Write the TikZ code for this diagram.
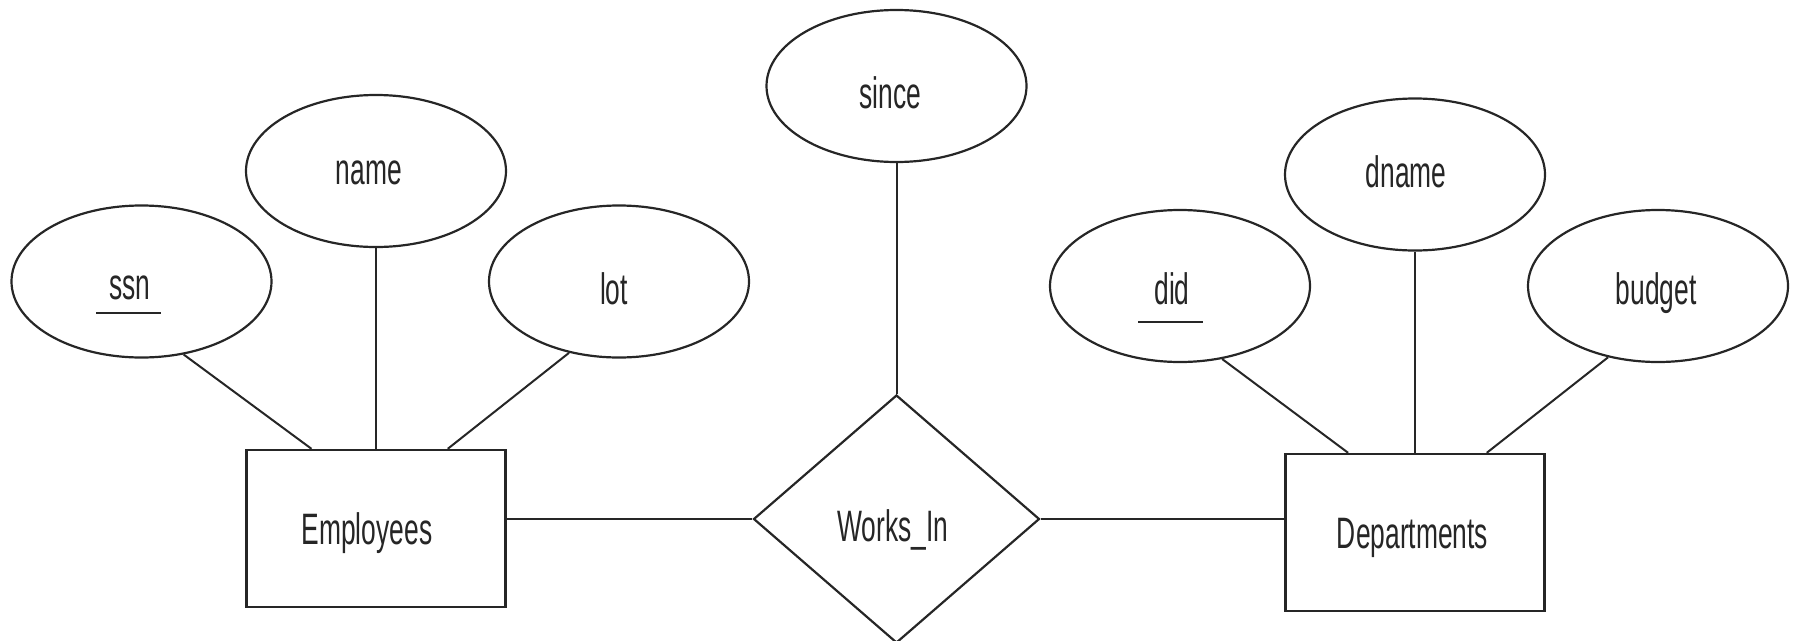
\documentclass[tikz,border=0pt]{standalone}
\usepackage{fontspec}
\newfontfamily\erfont[FakeStretch=0.6]{Liberation Sans}
\usetikzlibrary{shapes.geometric}
\definecolor{ink}{gray}{0.15}
\begin{document}
\begin{tikzpicture}[x=1pt,y=-1pt,
  attr/.style={ellipse,draw=ink,line width=2.2pt,minimum width=260pt,minimum height=152pt,inner sep=0pt},
  entity/.style={rectangle,draw=ink,line width=2.4pt,minimum width=259pt,minimum height=157pt,inner sep=0pt},
  rel/.style={diamond,draw=ink,line width=2.2pt,minimum width=286pt,minimum height=248pt,inner sep=0pt},
  txt/.style={anchor=base,inner sep=0pt,text=ink,font=\erfont\fontsize{44}{52}\selectfont},
  link/.style={draw=ink,line width=2pt},
  keyline/.style={draw=ink,line width=2.6pt}]
\useasboundingbox (0,0) rectangle (1794,640);

% attributes
\node[attr] (ssn)    at (141.5,281.5) {};
\node[attr] (name)   at (376,171)     {};
\node[attr] (lot)    at (619,281.5)   {};
\node[attr] (since)  at (896.5,86)    {};
\node[attr] (did)    at (1180,286)    {};
\node[attr] (dname)  at (1415,174.5)  {};
\node[attr] (budget) at (1658,286)    {};

% entity sets and relationship
\node[entity] (emp) at (376,528.5)  {};
\node[entity] (dep) at (1415,532.5) {};
\node[rel]    (wi)  at (896.5,519)  {};

% labels
\node[txt] (ssnT)    at (130,299)     {ssn};
\node[txt] (nameT)   at (369,184)     {name};
\node[txt] (lotT)    at (614,304)     {lot};
\node[txt] (sinceT)  at (890.5,108)   {since};
\node[txt] (didT)    at (1172,304)    {did};
\node[txt] (dnameT)  at (1406,187)    {dname};
\node[txt] (budgetT) at (1656,304)    {budget};
\node[txt] (empT)    at (367,544)     {Employees};
\node[txt] (depT)    at (1412.5,548)  {Departments};
\node[txt] (wiT)     at (893,541)     {Works\_In};

% key attributes are underlined
\draw[keyline] ([xshift=-34pt,yshift=-14pt]ssnT.base) -- ([xshift=31pt,yshift=-14pt]ssnT.base);
\draw[keyline] ([xshift=-34pt,yshift=-18pt]didT.base) -- ([xshift=31pt,yshift=-18pt]didT.base);

% connectors
\draw[link] (ssn.-60.5) -- (emp.129.8);
\draw[link] (name) -- (emp);
\draw[link] (lot.235.6) -- (emp.48.4);
\draw[link] (since) -- (wi);
\draw[link] (emp.east |- wi.west) -- (wi.west);
\draw[link] (wi.east) -- (dep.west |- wi.east);
\draw[link] (did.-60) -- (dep.130.1);
\draw[link] (dname) -- (dep);
\draw[link] (budget.235.3) -- (dep.48.6);
\end{tikzpicture}
\end{document}
